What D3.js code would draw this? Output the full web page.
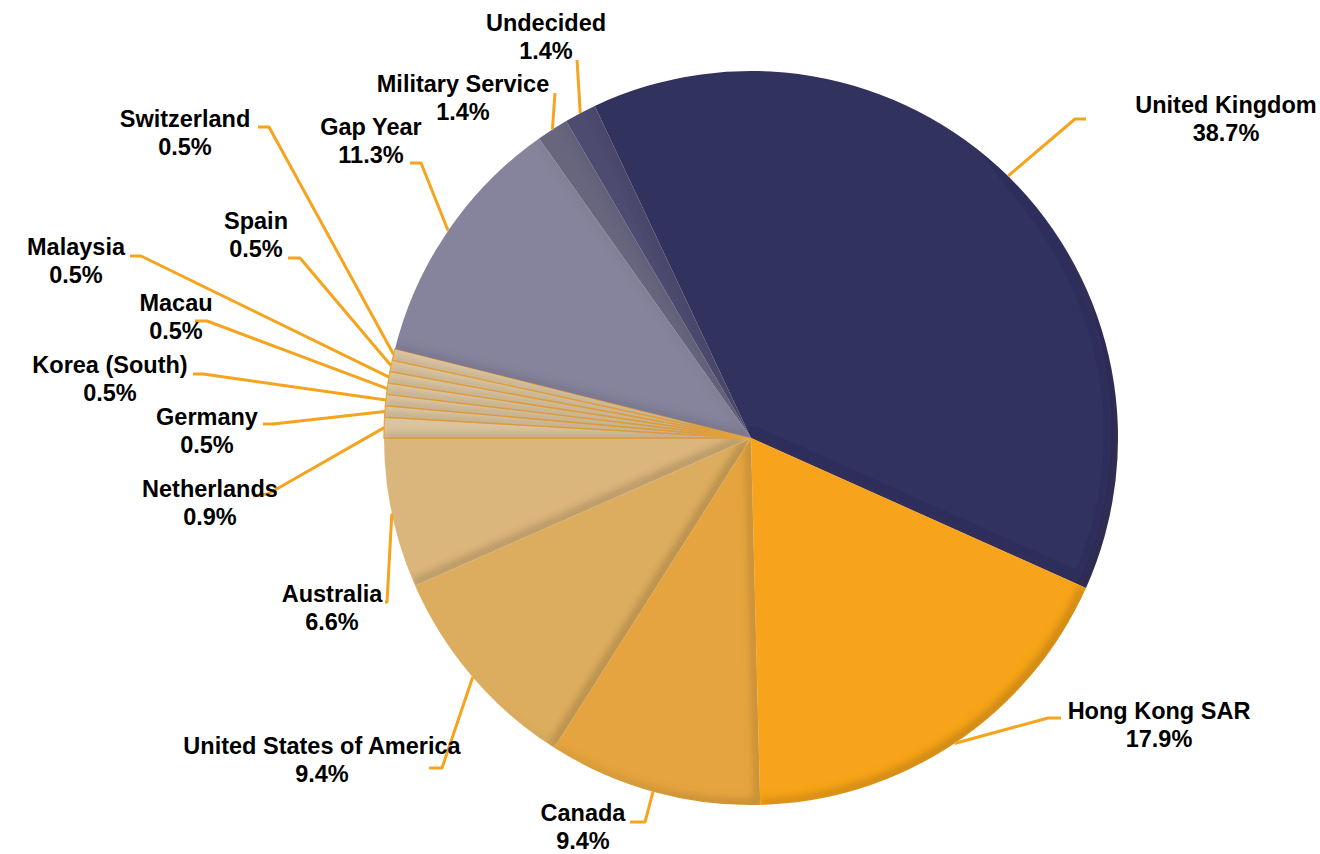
<!DOCTYPE html>
<html>
<head>
<meta charset="utf-8">
<script src="https://cdn.jsdelivr.net/npm/d3@7/dist/d3.min.js"></script>
<style>
  html, body { margin: 0; padding: 0; background: #fff; }
  svg { display: block; }
  text { font-family: "Liberation Sans", Arial, sans-serif; font-weight: bold; }
</style>
</head>
<body>
<svg id="chart" width="1320" height="854"></svg>
<script>
// ---- Data ----
const categories = ["United Kingdom", "Hong Kong SAR", "Canada", "United States of America", "Australia",
  "Netherlands", "Germany", "Korea (South)", "Macau", "Malaysia", "Spain", "Switzerland",
  "Gap Year", "Military Service", "Undecided"];
const values = [38.7, 17.9, 9.4, 9.4, 6.6, 0.9, 0.5, 0.5, 0.5, 0.5, 0.5, 0.5, 11.3, 1.4, 1.4];
const valueLabels = ["38.7%", "17.9%", "9.4%", "9.4%", "6.6%", "0.9%", "0.5%", "0.5%", "0.5%", "0.5%", "0.5%", "0.5%", "11.3%", "1.4%", "1.4%"];

// ---- Styles ----
const colors = ["#33325F", "#F7A41D", "#E5A43F", "#DDAD5F", "#DBB67C",
  "#DCC49F", "#DCC6A2", "#DCC6A2", "#DCC6A2", "#DCC6A2", "#DCC6A2", "#DCC6A2",
  "#86849C", "#67657F", "#4D4B70"];

// ---- Label layout (text centre x, first baseline y, elbow point, stub end) ----
const labelLayout = [
  {tx: 1226, ty: 113, ex: 1075, ey: 119, sx: 1086, sy: 119},
  {tx: 1159, ty: 719, ex: 1048, ey: 718, sx: 1061, sy: 718},
  {tx: 583,  ty: 821, ex: 645,  ey: 822, sx: 630,  sy: 822},
  {tx: 322,  ty: 754, ex: 442,  ey: 768, sx: 429,  sy: 768},
  {tx: 332,  ty: 602, ex: 387,  ey: 602, sx: 385,  sy: 602},
  {tx: 210,  ty: 497, ex: 268,  ey: 494, sx: 253,  sy: 496},
  {tx: 207,  ty: 425, ex: 273,  ey: 424, sx: 263,  sy: 424},
  {tx: 110,  ty: 373, ex: 203,  ey: 374, sx: 193,  sy: 374},
  {tx: 176,  ty: 311, ex: 207,  ey: 321, sx: 195,  sy: 321},
  {tx: 76,   ty: 255, ex: 141,  ey: 256, sx: 130,  sy: 256},
  {tx: 256,  ty: 229, ex: 300,  ey: 258, sx: 288,  sy: 258},
  {tx: 185,  ty: 127, ex: 269,  ey: 127, sx: 258,  sy: 127},
  {tx: 371,  ty: 135, ex: 421,  ey: 163, sx: 410,  sy: 163},
  {tx: 463,  ty: 92,  ex: 555,  ey: 93,  sx: 555,  sy: 93},
  {tx: 546,  ty: 31,  ex: 577,  ey: 60,  sx: 577,  sy: 60}
];

const cx = 751, cy = 438, R = 367;
const startDeg = -25.2;
const fontSize = 23.5, lineGap = 27.5;

const svg = d3.select("#chart");
const defs = svg.append("defs");
const f = defs.append("filter").attr("id", "inner")
  .attr("x", "-5%").attr("y", "-5%").attr("width", "110%").attr("height", "110%");
f.append("feOffset").attr("in", "SourceAlpha").attr("dx", -4).attr("dy", -4).attr("result", "off");
f.append("feComposite").attr("in", "SourceAlpha").attr("in2", "off").attr("operator", "out").attr("result", "edge");
f.append("feGaussianBlur").attr("in", "edge").attr("stdDeviation", 4).attr("result", "blur");
f.append("feFlood").attr("flood-color", "#2a1a00").attr("flood-opacity", 0.6).attr("result", "col");
f.append("feComposite").attr("in", "col").attr("in2", "blur").attr("operator", "in").attr("result", "sh");
f.append("feComposite").attr("in", "sh").attr("in2", "SourceAlpha").attr("operator", "in").attr("result", "ish");
const m = f.append("feMerge");
m.append("feMergeNode").attr("in", "SourceGraphic");
m.append("feMergeNode").attr("in", "ish");

const data = categories.map((c, i) => ({name: c, value: values[i], label: valueLabels[i], color: colors[i], layout: labelLayout[i], idx: i}));

const start = startDeg * Math.PI / 180;
const pie = d3.pie().sort(null).value(d => d.value).startAngle(start).endAngle(start + 2 * Math.PI);
const arcs = pie(data);
const arc = d3.arc().innerRadius(0).outerRadius(R);

const g = svg.append("g").attr("transform", `translate(${cx},${cy})`);
g.selectAll("path.slice").data(arcs).enter().append("path")
  .attr("class", "slice")
  .attr("d", arc)
  .attr("fill", d => d.data.color)
  .attr("stroke", d => (d.data.idx >= 5 && d.data.idx <= 11) ? "#EFAA45" : "none")
  .attr("stroke-width", 1.3)
  .attr("filter", "url(#inner)");

// leader lines
const leaderG = svg.append("g");
arcs.forEach(a => {
  const mid = (a.startAngle + a.endAngle) / 2;
  const px = cx + R * Math.sin(mid), py = cy - R * Math.cos(mid);
  const L = a.data.layout;
  leaderG.append("polyline")
    .attr("points", `${px},${py} ${L.ex},${L.ey} ${L.sx},${L.sy}`)
    .attr("fill", "none")
    .attr("stroke", "#F6A31E")
    .attr("stroke-width", 3)
    .attr("stroke-linejoin", "round");
});

// labels
const labelG = svg.append("g");
arcs.forEach(a => {
  const L = a.data.layout;
  const t = labelG.append("text")
    .attr("text-anchor", "middle")
    .attr("font-size", fontSize)
    .attr("fill", "#000");
  t.append("tspan").attr("x", L.tx).attr("y", L.ty).text(a.data.name);
  t.append("tspan").attr("x", L.tx).attr("y", L.ty + lineGap).text(a.data.label);
});
</script>
</body>
</html>
